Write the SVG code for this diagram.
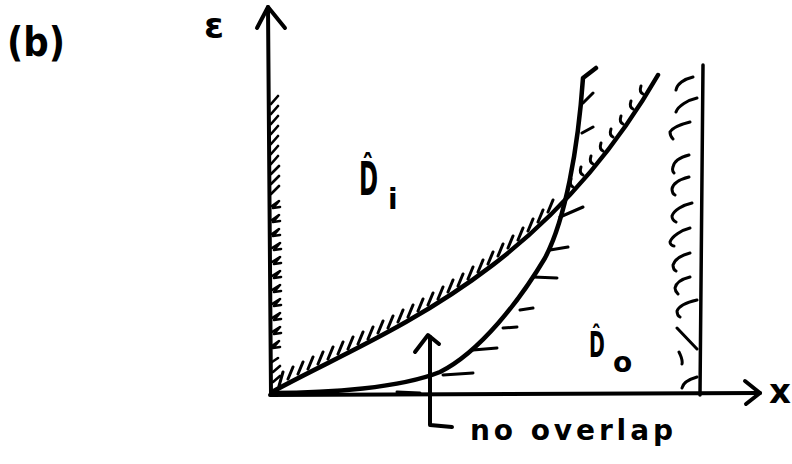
<svg xmlns="http://www.w3.org/2000/svg" width="792" height="464" viewBox="0 0 792 464">
<style>
.ln{fill:none;stroke:#000;stroke-linecap:round;stroke-linejoin:round}
.ax{stroke-width:4}
.cv{stroke-width:4.5}
.ht{stroke-width:3}
.tx{font-family:"DejaVu Sans","Liberation Sans",sans-serif;font-weight:bold;fill:#000}
</style>
<rect width="792" height="464" fill="#fff"/>
<g id="axes">
<path class="ln ax" d="M268,7 L271,395"/>
<path class="ln ax" d="M257,28 L268,7 L285,28"/>
<path class="ln ax" d="M270,395 L760,393"/>
<path class="ln ax" d="M745,381 L760,393 L746,404"/>
<path class="ln" stroke-width="2.6" d="M271,104 l7,-8 M271,114 l7,-8 M271,124 l7,-8 M271,134 l7,-8 M271,144 l7,-8 M271,154 l7,-8 M271,164 l7,-8 M271,174 l8,-8 M271,184 l8,-8 M271,194 l8,-8 M272,206 l7,-5 l-6,7 l7,-1 M272,220 l7,-5 l-6,7 l7,-1 M272,234 l7,-5 l-6,7 l7,-1 M272,248 l8,-5 l-6,7 l7,-1 M272,262 l8,-5 l-6,7 l7,-1 M272,276 l8,-5 l-6,7 l7,-1 M272,290 l8,-5 l-6,7 l7,-1 M272,304 l8,-5 l-6,7 l7,-1 M272,318 l8,-5 l-6,7 l7,-1 M272,332 l8,-5 l-6,7 l7,-1 M272,346 l7,-5 l-6,7 l7,-1 M272,362 l6,-4 M273,372 l7,-6 M273,382 l7,-6"/>
</g>
<g id="boundary-Di">
<path class="ln cv" d="M272,392 C375,335 540,280 658,75"/>
<path class="ln ht" d="M279,386 L283,372 M288,379 L293,367 M298,374 L303,362 M308,369 L313,357 M318,364 L323,352 M328,359 L333,347 M338,354 L343,342 M348,349 L353,337 M358,344 L363,332 M368,339 L373,327 M378,333 L383,321 M388,328 L393,316 M398,322 L403,310 M408,317 L413,305 M418,311 L423,299 M428,305 L433,293 M438,299 L443,287 M448,292 L453,280 M458,286 L463,274 M468,279 L473,267 M478,272 L483,260 M488,264 L493,252 M498,256 L503,244 M508,248 L513,236 M518,240 L523,228 M528,231 L533,219 M538,222 L543,210 M548,212 L553,200"/>
<path class="ln ht" d="M573,187 q-4,-2 -2,-8 M583,175 q-4,-2 -2,-8 M593,164 q-4,-2 -2,-8 M603,151 q-4,-2 -2,-8 M613,137 q-4,-2 -2,-8 M623,124 q-4,-2 -2,-8 M633,109 q-4,-2 -2,-8 M643,94 q-4,-2 -2,-8"/>
</g>
<g id="boundary-Do">
<path class="ln cv" d="M272,393 C330,393 400,388 440,372 C480,352 520,300 545,258 C565,220 578,150 583,78 L596,68"/>
<path class="ln ht" d="M397,392 L420,393 M443,375 L473,373 M473,350 L497,348 M503,328 L517,327 M520,310 L533,308 M533,277 L557,278 M550,250 L568,247 M560,217 L583,207 M582,133 L593,127 M583,103 L593,93"/>
</g>
<g id="wall">
<path class="ln" stroke-width="3.5" d="M703,65 L700,395"/>
<path class="ln ht" d="M693,77 C684,79 677,84 676,90 M697,98 C688,100 678,106 676,112 M690,122 C682,124 672,128 670,132 C670,136 672,138 673,139 M689,155 C681,157 674,161 673,167 C672,170 673,172 674,173 M689,177 C681,179 673,183 672,189 C672,192 673,194 675,195 M692,203 C683,205 674,210 672,216 C672,219 674,221 676,222 M690,228 C682,230 672,236 670,242 C670,244 672,246 674,246 M690,253 C682,255 675,259 673,265 C673,268 674,270 676,271 M690,277 C682,279 676,283 675,288 C675,291 677,293 678,294 M697,300 C688,302 679,306 677,311 C677,314 678,316 680,317 M677,328 L697,349 M679,352 C681,356 683,360 682,364 M697,377 C690,379 683,383 682,388"/>
</g>
<g id="no-overlap-arrow">
<path class="ln ax" d="M430,337 L430,425 L452,427"/>
<path class="ln ax" d="M415,352 L428,335 L439,344"/>
</g>
<g id="labels">
<text class="tx" x="7" y="56" font-size="40" textLength="58" lengthAdjust="spacingAndGlyphs">(b)</text>
<text class="tx" x="204" y="38" font-size="36">ε</text>
<text class="tx" x="769" y="403" font-size="34">x</text>
<text class="tx" transform="translate(359,195) scale(0.5,1)" font-size="46">D̂</text>
<text class="tx" x="388" y="209" font-size="28">i</text>
<text class="tx" transform="translate(589,357) scale(0.53,1)" font-size="36">D̂</text>
<text class="tx" x="613" y="372" font-size="28">o</text>
<text class="tx" x="470" y="440" font-size="28" textLength="203" lengthAdjust="spacing">no overlap</text>
</g>
</svg>
